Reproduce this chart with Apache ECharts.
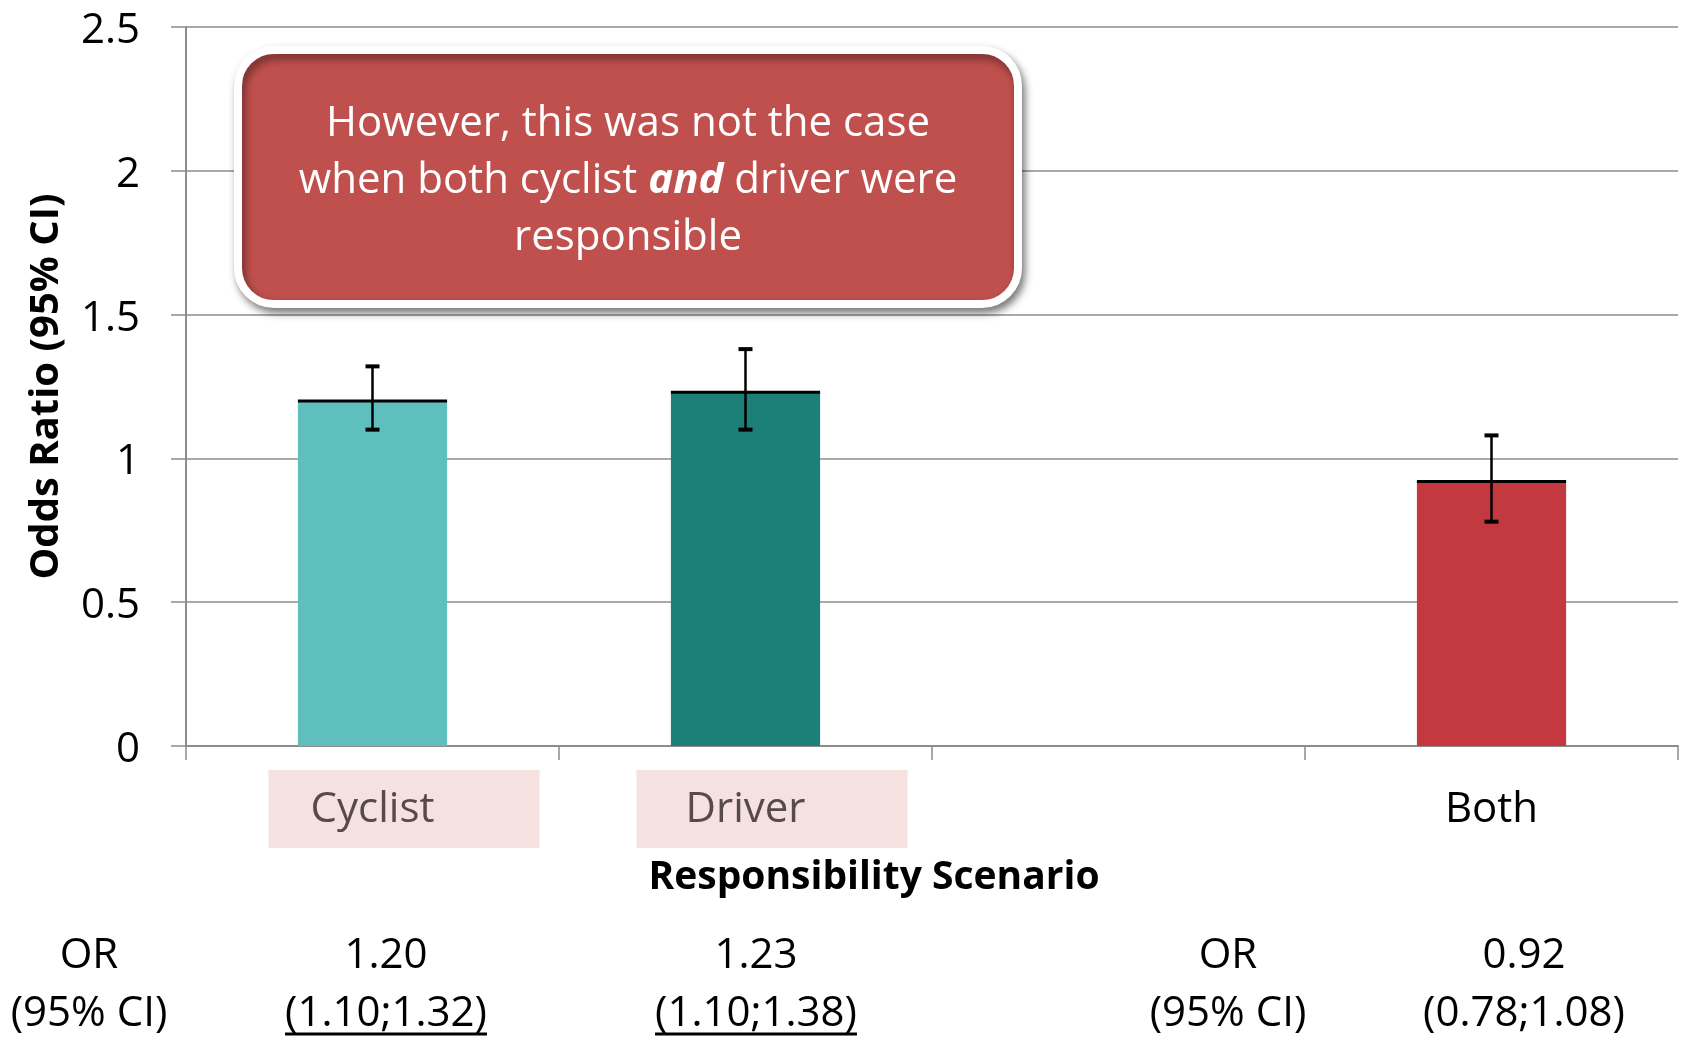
<!DOCTYPE html>
<html><head><meta charset="utf-8">
<script src="https://cdn.jsdelivr.net/npm/echarts@6/dist/echarts.min.js"></script>
<style>html,body{margin:0;padding:0;background:#fff}#c{width:1683px;height:1039px}</style>
</head><body><div id="c"></div>
<script>
// ---- data ----
const categories = ['Cyclist', 'Driver', '', 'Both'];
const orValues = [1.20, 1.23, null, 0.92];
const ciLow = [1.10, 1.10, null, 0.78];
const ciHigh = [1.32, 1.38, null, 1.08];
const barColors = ['#5FBFBC', '#1C7F78', '#C3393F', '#C3393F'];
const highlighted = [true, true, false, false];
const underlined = [true, true, false, false];
const yAxisName = 'Odds Ratio (95% CI)';
const xAxisName = 'Responsibility Scenario';
const tableHeader = ['OR', '(95% CI)'];
const annotationText = 'However, this was not the case\nwhen both cyclist {b|and} driver were\nresponsible';

// ---- layout/style ----
const FONT = '"Open Sans", "Noto Sans", sans-serif';
const GRAY = '#8C8C8C';
const headerX = [89, 1228];
const valueX = [386, 756, null, 1524];
const rowY = [956, 1014];
const boxOffset = [-104, -109, 0, 0];

const chart = echarts.init(document.getElementById('c'), null, {renderer: 'canvas'});

const option = {
  animation: false,
  backgroundColor: '#fff',
  grid: {left: 186, right: 5, top: 27, bottom: 293, containLabel: false},
  xAxis: {
    type: 'category',
    data: categories.map((c, i) => ({
      value: c,
      textStyle: {color: highlighted[i] ? '#594A4A' : '#000'}
    })),
    boundaryGap: true,
    axisLine: {lineStyle: {color: GRAY, width: 2}},
    axisTick: {show: true, length: 14, lineStyle: {color: GRAY, width: 1.5}},
    axisLabel: {fontFamily: FONT, fontSize: 42, lineHeight: 50, margin: 39, color: '#000', interval: 0},
    name: xAxisName,
    nameLocation: 'middle',
    nameGap: 107,
    nameTextStyle: {fontFamily: FONT, fontSize: 39, fontWeight: 'bold', color: '#000', lineHeight: 50, padding: [0, 116, 0, 0]}
  },
  yAxis: {
    type: 'value',
    min: 0, max: 2.5, interval: 0.5,
    axisLine: {show: true, lineStyle: {color: GRAY, width: 2}},
    axisTick: {show: true, length: 15, lineStyle: {color: GRAY, width: 1.5}},
    splitLine: {show: true, lineStyle: {color: GRAY, width: 1.5}},
    axisLabel: {
      fontFamily: FONT, fontSize: 42, margin: 46, color: '#000',
      formatter: v => '{a|' + v + '}',
      rich: {a: {fontFamily: FONT, fontSize: 42, color: '#000', lineHeight: 50, padding: [8, 0, 0, 0]}}
    },
    name: yAxisName,
    nameLocation: 'middle',
    nameRotate: 90,
    nameGap: 119,
    nameTextStyle: {fontFamily: FONT, fontSize: 40, fontWeight: 'bold', color: '#000'}
  },
  series: [
    {
      type: 'bar',
      barWidth: '40%',
      data: orValues.map((v, i) => ({value: v == null ? '-' : v, itemStyle: {color: barColors[i]}})),
      z: 2
    },
    {
      type: 'custom',
      z: 3,
      data: orValues.map((v, i) => [i, v == null ? '-' : v]),
      renderItem: function (params, api) {
        const p = api.coord([api.value(0), api.value(1)]);
        const w = api.size([1, 0])[0] * 0.4;
        return {type: 'line', shape: {x1: p[0] - w / 2, y1: p[1], x2: p[0] + w / 2, y2: p[1]},
          style: {stroke: '#000', lineWidth: 3}};
      }
    },
    {
      type: 'custom',
      z: 4,
      data: ciLow.map((v, i) => [i, v == null ? '-' : v, ciHigh[i] == null ? '-' : ciHigh[i]]),
      renderItem: function (params, api) {
        const lo = api.coord([api.value(0), api.value(1)]);
        const hi = api.coord([api.value(0), api.value(2)]);
        const cw = 7;
        return {type: 'group', children: [
          {type: 'line', shape: {x1: lo[0], y1: lo[1], x2: hi[0], y2: hi[1]}, style: {stroke: '#000', lineWidth: 2.5}},
          {type: 'line', shape: {x1: lo[0] - cw, y1: lo[1], x2: lo[0] + cw, y2: lo[1]}, style: {stroke: '#000', lineWidth: 4}},
          {type: 'line', shape: {x1: hi[0] - cw, y1: hi[1], x2: hi[0] + cw, y2: hi[1]}, style: {stroke: '#000', lineWidth: 4}}
        ]};
      }
    }
  ]
};
chart.setOption(option);

// measure text for underlines
const mctx = document.createElement('canvas').getContext('2d');
mctx.font = '42px ' + FONT;

const graphics = [];
// pink highlight boxes behind category labels
categories.forEach((c, i) => {
  if (!highlighted[i]) return;
  const cx = chart.convertToPixel({xAxisIndex: 0}, c);
  graphics.push({type: 'rect', z: -1, shape: {x: cx + boxOffset[i], y: 770, width: 271, height: 78}, style: {fill: '#F4E1E0'}});
});
// annotation callout
graphics.push({type: 'rect', z: 100, shape: {x: 238, y: 50, width: 780, height: 254, r: 36},
  style: {fill: '#C0504D', stroke: '#fff', lineWidth: 8, shadowBlur: 8, shadowOffsetX: 3, shadowOffsetY: 5, shadowColor: 'rgba(0,0,0,0.45)'}});
graphics.push({type: 'text', z: 101, style: {
  text: annotationText, x: 628, y: 181, align: 'center', verticalAlign: 'middle',
  fontFamily: FONT, fontSize: 42, lineHeight: 57, fill: '#fff',
  rich: {b: {fontFamily: FONT, fontSize: 42, lineHeight: 57, fontWeight: 'bold', fontStyle: 'italic', fill: '#fff'}}
}});
// table below
headerX.forEach(x => {
  tableHeader.forEach((t, r) => graphics.push({type: 'text', style: {text: t, x: x, y: rowY[r], align: 'center', verticalAlign: 'middle', fontFamily: FONT, fontSize: 42, fill: '#000'}}));
});
orValues.forEach((v, i) => {
  if (v == null) return;
  const l1 = v.toFixed(2);
  const l2 = '(' + ciLow[i].toFixed(2) + ';' + ciHigh[i].toFixed(2) + ')';
  graphics.push({type: 'text', style: {text: l1, x: valueX[i], y: rowY[0], align: 'center', verticalAlign: 'middle', fontFamily: FONT, fontSize: 42, fill: '#000'}});
  graphics.push({type: 'text', style: {text: l2, x: valueX[i], y: rowY[1], align: 'center', verticalAlign: 'middle', fontFamily: FONT, fontSize: 42, fill: '#000'}});
  if (underlined[i]) {
    const w = mctx.measureText(l2).width;
    graphics.push({type: 'line', shape: {x1: valueX[i] - w / 2, y1: 1034, x2: valueX[i] + w / 2, y2: 1034}, style: {stroke: '#000', lineWidth: 3}});
  }
});
chart.setOption({graphic: graphics});
</script>
</body></html>
